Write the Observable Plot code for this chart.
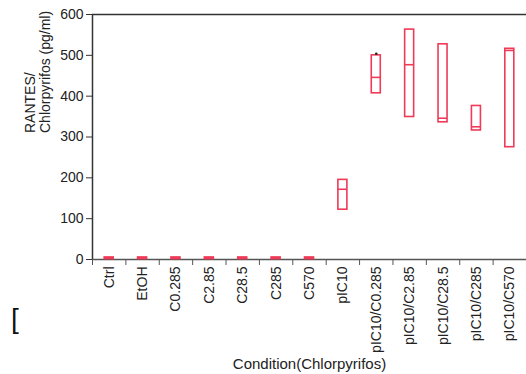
<!DOCTYPE html>
<html>
<head>
<meta charset="utf-8">
<script src="https://cdn.jsdelivr.net/npm/d3@7"></script>
<script src="https://cdn.jsdelivr.net/npm/@observablehq/plot@0.6"></script>
<style>
  html, body { margin: 0; padding: 0; background: #fff; }
  #wrap { position: relative; width: 526px; height: 374px; }
  #bracket { position: absolute; left: 11px; top: 303px; font: 28px "Liberation Sans", Arial, sans-serif; color: #111; }
</style>
</head>
<body>
<div id="wrap"><div id="bracket">[</div></div>
<script>
const categories = ["Ctrl","EtOH","C0.285","C2.85","C28.5","C285","C570","pIC10","pIC10/C0.285","pIC10/C2.85","pIC10/C28.5","pIC10/C285","pIC10/C570"];
const lows    = [1, 1, 1, 1, 1, 1, 1, 122, 407, 349, 336, 316, 275];
const medians = [3, 3, 3, 3, 3, 3, 3, 172, 446, 477, 346, 325, 512];
const highs   = [5, 5, 5, 5, 5, 5, 5, 195, 500, 563, 527, 376, 516];
const outliers = [{cat: "pIC10/C0.285", value: 504}];
const yTicks = [0, 100, 200, 300, 400, 500, 600];

const data = categories.map((c, i) => ({i, c, lo: lows[i], med: medians[i], hi: highs[i]}));
const half = 0.135;
const red = "#ef3a58";
const font = "'Liberation Sans', Arial, Helvetica, sans-serif";

const chart = Plot.plot({
  width: 526, height: 374,
  marginTop: 14, marginBottom: 115, marginLeft: 92, marginRight: 0,
  style: {fontFamily: font, fontSize: "14px", color: "#222", background: "#fff"},
  x: {domain: [0, categories.length], axis: null},
  y: {domain: [0, 600], axis: null},
  marks: [
    Plot.axisY({ticks: yTicks, tickSize: 6, tickPadding: 3, fontSize: 14, label: null, stroke: "#333"}),
    Plot.axisX({ticks: d3.range(0, categories.length + 1), tickSize: 6, tickFormat: () => "", label: null, stroke: "#555"}),
    Plot.axisX({ticks: d3.range(categories.length).map(i => i + 0.5), tickSize: 0, tickPadding: 7,
      tickFormat: v => categories[Math.floor(v)], tickRotate: -90, fontSize: 14, label: null}),
    Plot.ruleY([600], {stroke: "#333", strokeWidth: 1.5}),
    Plot.ruleX([0], {stroke: "#333", strokeWidth: 1.5}),
    Plot.ruleY([0], {stroke: "#555", strokeWidth: 1.5}),
    Plot.rect(data, {x1: d => d.i + 0.5 - half, x2: d => d.i + 0.5 + half, y1: "lo", y2: "hi",
      stroke: red, strokeWidth: 1.6, fill: d => d.hi < 20 ? red : "none"}),
    Plot.ruleY(data, {x1: d => d.i + 0.5 - half, x2: d => d.i + 0.5 + half, y: "med", stroke: red, strokeWidth: 1.6}),
    Plot.dot(outliers, {x: d => categories.indexOf(d.cat) + 0.5, y: "value", r: 1.3, fill: "#222"}),
    Plot.text(["RANTES/\nChlorpyrifos (pg/ml)"], {frameAnchor: "left", rotate: -90, dx: -55, dy: -4, fontSize: 14, lineHeight: 1.08, fill: "#222"}),
    Plot.text(["Condition(Chlorpyrifos)"], {frameAnchor: "bottom", dy: 109, fontSize: 15, fill: "#222"})
  ]
});
document.getElementById("wrap").appendChild(chart);
</script>
</body>
</html>
